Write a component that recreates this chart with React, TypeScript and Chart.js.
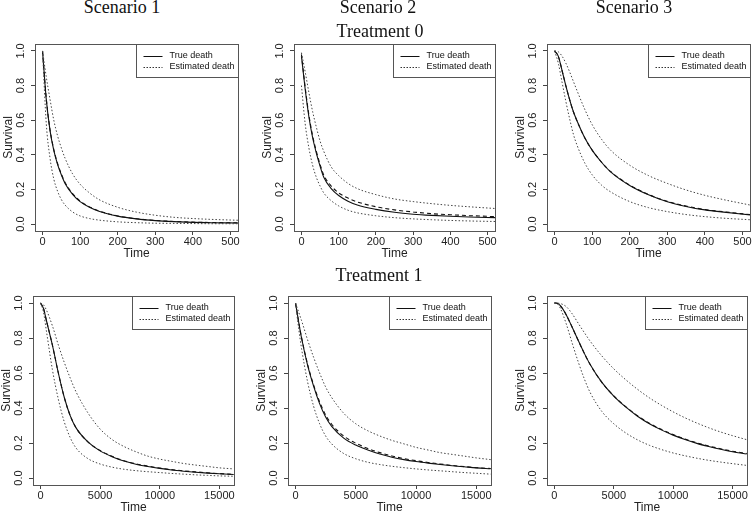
import React, { useEffect, useRef } from "react";
import { Chart, registerables } from "chart.js";

Chart.register(...registerables);

// ---------- data ----------
const TIME_TOP = [0, 10, 20, 30, 40, 50, 60, 80, 100, 125, 150, 200, 250, 300, 350, 400, 450, 520];
const TIME_BOTTOM = [0, 250, 500, 1000, 1500, 2000, 2500, 3000, 4000, 5000, 6000, 7000, 8000, 9000, 10000, 11000, 12000, 13000, 14000, 15000, 16200];

// Scenario 1, Treatment 0
const S1_T0_TRUE = [1.0, 0.72, 0.54, 0.425, 0.345, 0.285, 0.235, 0.172, 0.13, 0.097, 0.074, 0.046, 0.03, 0.02, 0.014, 0.01, 0.008, 0.006];
const S1_T0_EST = [1.0, 0.725, 0.545, 0.43, 0.35, 0.29, 0.24, 0.176, 0.133, 0.099, 0.076, 0.047, 0.031, 0.021, 0.015, 0.011, 0.009, 0.007];
const S1_T0_HI = [1.0, 0.85, 0.72, 0.60, 0.51, 0.44, 0.38, 0.29, 0.23, 0.18, 0.142, 0.097, 0.069, 0.051, 0.039, 0.032, 0.027, 0.022];
const S1_T0_LO = [1.0, 0.58, 0.38, 0.26, 0.19, 0.142, 0.11, 0.07, 0.047, 0.032, 0.023, 0.013, 0.008, 0.005, 0.004, 0.003, 0.002, 0.002];

// Scenario 2, Treatment 0
const S2_T0_TRUE = [0.97, 0.78, 0.62, 0.50, 0.41, 0.335, 0.27, 0.205, 0.165, 0.132, 0.11, 0.085, 0.068, 0.057, 0.05, 0.045, 0.041, 0.037];
const S2_T0_EST = [0.98, 0.79, 0.63, 0.51, 0.42, 0.345, 0.283, 0.22, 0.18, 0.15, 0.128, 0.1, 0.082, 0.07, 0.06, 0.054, 0.049, 0.043];
const S2_T0_HI = [0.99, 0.88, 0.76, 0.65, 0.56, 0.48, 0.42, 0.33, 0.28, 0.235, 0.205, 0.17, 0.145, 0.13, 0.118, 0.108, 0.1, 0.09];
const S2_T0_LO = [0.80, 0.58, 0.44, 0.34, 0.27, 0.22, 0.18, 0.135, 0.105, 0.08, 0.065, 0.048, 0.037, 0.03, 0.025, 0.021, 0.018, 0.015];

// Scenario 3, Treatment 0
const S3_T0_TRUE = [1.0, 0.97, 0.887, 0.80, 0.72, 0.65, 0.595, 0.50, 0.427, 0.357, 0.30, 0.223, 0.169, 0.129, 0.102, 0.082, 0.069, 0.053];
const S3_T0_EST = [1.0, 0.97, 0.887, 0.80, 0.72, 0.65, 0.595, 0.50, 0.428, 0.358, 0.302, 0.225, 0.171, 0.131, 0.104, 0.084, 0.071, 0.055];
const S3_T0_HI = [1.0, 0.995, 0.97, 0.93, 0.88, 0.825, 0.77, 0.665, 0.575, 0.49, 0.425, 0.34, 0.28, 0.235, 0.197, 0.166, 0.141, 0.11];
const S3_T0_LO = [1.0, 0.93, 0.82, 0.71, 0.61, 0.52, 0.455, 0.355, 0.285, 0.225, 0.185, 0.13, 0.095, 0.072, 0.055, 0.043, 0.034, 0.025];

// Scenario 1, Treatment 1
const S1_T1_TRUE = [1.0, 0.97, 0.90, 0.76, 0.60, 0.46, 0.355, 0.285, 0.205, 0.155, 0.122, 0.097, 0.079, 0.066, 0.055, 0.046, 0.039, 0.033, 0.028, 0.024, 0.02];
const S1_T1_EST = [1.0, 0.97, 0.90, 0.76, 0.60, 0.46, 0.355, 0.285, 0.205, 0.157, 0.124, 0.099, 0.081, 0.068, 0.057, 0.048, 0.041, 0.035, 0.03, 0.025, 0.021];
const S1_T1_HI = [1.0, 0.99, 0.96, 0.87, 0.76, 0.66, 0.57, 0.49, 0.37, 0.28, 0.22, 0.18, 0.15, 0.125, 0.108, 0.095, 0.083, 0.074, 0.066, 0.058, 0.052];
const S1_T1_LO = [1.0, 0.95, 0.84, 0.62, 0.45, 0.32, 0.23, 0.17, 0.11, 0.08, 0.062, 0.05, 0.042, 0.036, 0.031, 0.026, 0.022, 0.018, 0.015, 0.012, 0.01];

// Scenario 2, Treatment 1
const S2_T1_TRUE = [1.0, 0.895, 0.80, 0.645, 0.525, 0.425, 0.348, 0.295, 0.228, 0.188, 0.16, 0.137, 0.119, 0.105, 0.094, 0.085, 0.077, 0.07, 0.064, 0.058, 0.053];
const S2_T1_EST = [1.0, 0.897, 0.803, 0.65, 0.532, 0.435, 0.36, 0.307, 0.24, 0.199, 0.169, 0.145, 0.126, 0.111, 0.099, 0.089, 0.08, 0.072, 0.065, 0.059, 0.054];
const S2_T1_HI = [1.0, 0.95, 0.90, 0.79, 0.69, 0.60, 0.52, 0.46, 0.37, 0.31, 0.27, 0.24, 0.215, 0.195, 0.175, 0.16, 0.145, 0.135, 0.125, 0.115, 0.105];
const S2_T1_LO = [1.0, 0.86, 0.74, 0.55, 0.41, 0.31, 0.24, 0.195, 0.14, 0.11, 0.09, 0.077, 0.067, 0.059, 0.052, 0.046, 0.041, 0.036, 0.031, 0.027, 0.022];

// Scenario 3, Treatment 1
const S3_T1_TRUE = [1.0, 0.998, 0.985, 0.932, 0.861, 0.787, 0.715, 0.65, 0.546, 0.468, 0.406, 0.353, 0.31, 0.275, 0.245, 0.22, 0.198, 0.18, 0.164, 0.15, 0.137];
const S3_T1_EST = [1.0, 0.998, 0.985, 0.932, 0.861, 0.787, 0.715, 0.65, 0.546, 0.469, 0.408, 0.356, 0.313, 0.278, 0.248, 0.223, 0.201, 0.183, 0.167, 0.153, 0.14];
const S3_T1_HI = [1.0, 0.999, 0.997, 0.979, 0.938, 0.885, 0.833, 0.783, 0.697, 0.624, 0.562, 0.507, 0.458, 0.416, 0.378, 0.344, 0.314, 0.287, 0.263, 0.242, 0.219];
const S3_T1_LO = [1.0, 0.995, 0.97, 0.88, 0.77, 0.665, 0.57, 0.49, 0.38, 0.31, 0.258, 0.218, 0.187, 0.163, 0.143, 0.127, 0.113, 0.101, 0.091, 0.082, 0.072];

const Y_TICKS = [0, 0.2, 0.4, 0.6, 0.8, 1.0];
const X_TICKS_TOP = [0, 100, 200, 300, 400, 500];
const X_TICKS_BOTTOM = [0, 5000, 10000, 15000];
const LEGEND_LABELS = ["True death", "Estimated death"];
const COLUMN_TITLES = ["Scenario 1", "Scenario 2", "Scenario 3"];
const ROW_TITLES = ["Treatment 0", "Treatment 1"];
const X_TITLE = "Time";
const Y_TITLE = "Survival";

// ---------- layout ----------
const Y_AXIS_W = 36;
const X_AXIS_H = 30;
const PAD_T = 12;
const PAD_R = 10;
const SANS = "'Liberation Sans', Arial, Helvetica, sans-serif";
const SERIF = "'Liberation Serif', 'DejaVu Serif', serif";

type PanelSpec = {
  box: [number, number, number, number];
  xMin: number;
  xMax: number;
  xTicks: number[];
  time: number[];
  tru: number[];
  est: number[];
  hi: number[];
  lo: number[];
};

const PANELS: PanelSpec[] = [
  { box: [35, 44, 238, 231], xMin: -20, xMax: 520, xTicks: X_TICKS_TOP, time: TIME_TOP, tru: S1_T0_TRUE, est: S1_T0_EST, hi: S1_T0_HI, lo: S1_T0_LO },
  { box: [294, 44, 495, 231], xMin: -20, xMax: 520, xTicks: X_TICKS_TOP, time: TIME_TOP, tru: S2_T0_TRUE, est: S2_T0_EST, hi: S2_T0_HI, lo: S2_T0_LO },
  { box: [547, 44, 750, 231], xMin: -20, xMax: 520, xTicks: X_TICKS_TOP, time: TIME_TOP, tru: S3_T0_TRUE, est: S3_T0_EST, hi: S3_T0_HI, lo: S3_T0_LO },
  { box: [33, 296, 234, 485], xMin: -624, xMax: 16224, xTicks: X_TICKS_BOTTOM, time: TIME_BOTTOM, tru: S1_T1_TRUE, est: S1_T1_EST, hi: S1_T1_HI, lo: S1_T1_LO },
  { box: [288, 296, 491, 485], xMin: -624, xMax: 16224, xTicks: X_TICKS_BOTTOM, time: TIME_BOTTOM, tru: S2_T1_TRUE, est: S2_T1_EST, hi: S2_T1_HI, lo: S2_T1_LO },
  { box: [547, 296, 747, 485], xMin: -624, xMax: 16224, xTicks: X_TICKS_BOTTOM, time: TIME_BOTTOM, tru: S3_T1_TRUE, est: S3_T1_EST, hi: S3_T1_HI, lo: S3_T1_LO },
];

const boxLegendPlugin = {
  id: "boxLegend",
  afterDraw(chart: any) {
    const ctx = chart.ctx as CanvasRenderingContext2D;
    const a = chart.chartArea;
    const l = Math.round(a.left) + 0.5;
    const t = Math.round(a.top) + 0.5;
    const r = Math.round(a.right) + 0.5;
    const b = Math.round(a.bottom) + 0.5;
    ctx.save();
    // legend
    const w = 102;
    const h = 33;
    const lx = r - w;
    const ly = t;
    ctx.fillStyle = "#ffffff";
    ctx.fillRect(lx, ly, w, h);
    ctx.strokeStyle = "#555";
    ctx.lineWidth = 1;
    ctx.strokeRect(lx, ly, w, h);
    const rows = [ly + 11, ly + 22.5];
    ctx.font = `9px ${SANS}`;
    ctx.textBaseline = "middle";
    ctx.textAlign = "left";
    LEGEND_LABELS.forEach((lab, i) => {
      ctx.beginPath();
      ctx.strokeStyle = i === 0 ? "#111" : "#333";
      ctx.lineWidth = 1;
      ctx.setLineDash(i === 0 ? [] : [1.5, 1.5]);
      ctx.moveTo(lx + 7, Math.round(rows[i]) + 0.5);
      ctx.lineTo(lx + 26, Math.round(rows[i]) + 0.5);
      ctx.stroke();
      ctx.setLineDash([]);
      ctx.fillStyle = "#111";
      ctx.fillText(lab, lx + 33, rows[i]);
    });
    // box
    ctx.strokeStyle = "#555";
    ctx.lineWidth = 1;
    ctx.strokeRect(l, t, r - l, b - t);
    ctx.restore();
  },
};

function SurvPanel({ p }: { p: PanelSpec }) {
  const ref = useRef<HTMLCanvasElement>(null);
  const [bl, bt, br, bb] = p.box;
  const width = br - bl + Y_AXIS_W + PAD_R;
  const height = bb - bt + PAD_T + X_AXIS_H;

  useEffect(() => {
    if (!ref.current) return;
    const pts = (ys: number[]) => p.time.map((t, i) => ({ x: t, y: ys[i] }));
    const common = { pointRadius: 0, fill: false, cubicInterpolationMode: "monotone" as const, clip: 0 };
    const chart = new Chart(ref.current, {
      type: "line",
      data: {
        datasets: [
          { label: "upper", data: pts(p.hi), borderColor: "#444", borderWidth: 1, borderDash: [1.5, 2], ...common },
          { label: "lower", data: pts(p.lo), borderColor: "#444", borderWidth: 1, borderDash: [1.5, 2], ...common },
          { label: "Estimated death", data: pts(p.est), borderColor: "#111", borderWidth: 1.1, borderDash: [4, 3], ...common },
          { label: "True death", data: pts(p.tru), borderColor: "#111", borderWidth: 1.1, ...common },
        ],
      },
      options: {
        responsive: false,
        animation: false,
        devicePixelRatio: 1,
        layout: { padding: { top: PAD_T, right: PAD_R, left: 0, bottom: 0 } },
        plugins: { legend: { display: false }, tooltip: { enabled: false } },
        scales: {
          x: {
            type: "linear",
            min: p.xMin,
            max: p.xMax,
            afterBuildTicks: (s: any) => {
              s.ticks = p.xTicks.map((v) => ({ value: v }));
            },
            afterFit: (s: any) => {
              s.height = X_AXIS_H;
            },
            grid: { display: true, drawOnChartArea: false, drawTicks: true, tickLength: 4, color: "#444", lineWidth: 1 },
            border: { display: false },
            ticks: {
              autoSkip: false,
              maxRotation: 0,
              minRotation: 0,
              padding: 0,
              color: "#222",
              font: { family: SANS, size: 11 },
              callback: (v: any) => String(v),
            },
            title: { display: true, text: X_TITLE, color: "#222", font: { family: SANS, size: 12 }, padding: { top: 0, bottom: 0 } },
          },
          y: {
            type: "linear",
            min: -0.04,
            max: 1.04,
            afterBuildTicks: (s: any) => {
              s.ticks = Y_TICKS.map((v) => ({ value: v }));
            },
            afterFit: (s: any) => {
              s.width = Y_AXIS_W;
            },
            grid: { display: true, drawOnChartArea: false, drawTicks: true, tickLength: 4, color: "#444", lineWidth: 1 },
            border: { display: false },
            ticks: {
              autoSkip: false,
              minRotation: 90,
              maxRotation: 90,
              crossAlign: "center",
              padding: 2,
              color: "#222",
              font: { family: SANS, size: 11 },
              callback: (v: any) => Number(v).toFixed(1),
            },
            title: { display: true, text: Y_TITLE, color: "#222", font: { family: SANS, size: 12 }, padding: { top: 2, bottom: 0 } },
          },
        },
      } as any,
      plugins: [boxLegendPlugin],
    });
    return () => chart.destroy();
  }, []);

  return (
    <canvas
      ref={ref}
      width={width}
      height={height}
      style={{ position: "absolute", left: bl - Y_AXIS_W, top: bt - PAD_T, width, height }}
    />
  );
}

const titleStyle = (cx: number, top: number): React.CSSProperties => ({
  position: "absolute",
  left: cx - 100,
  width: 200,
  top,
  textAlign: "center",
  fontFamily: SERIF,
  fontSize: 18,
  lineHeight: "18px",
  color: "#111",
  whiteSpace: "nowrap",
});

export default function App() {
  const colCenters = [122, 378, 634];
  return (
    <div style={{ position: "absolute", left: 0, top: 0, width: 755, height: 513, overflow: "hidden", background: "#fff" }}>
      {PANELS.map((p, i) => (
        <SurvPanel key={i} p={p} />
      ))}
      {COLUMN_TITLES.map((t, i) => (
        <div key={t} style={titleStyle(colCenters[i], -2)}>{t}</div>
      ))}
      <div style={titleStyle(380, 22)}>{ROW_TITLES[0]}</div>
      <div style={titleStyle(379, 266)}>{ROW_TITLES[1]}</div>
    </div>
  );
}
